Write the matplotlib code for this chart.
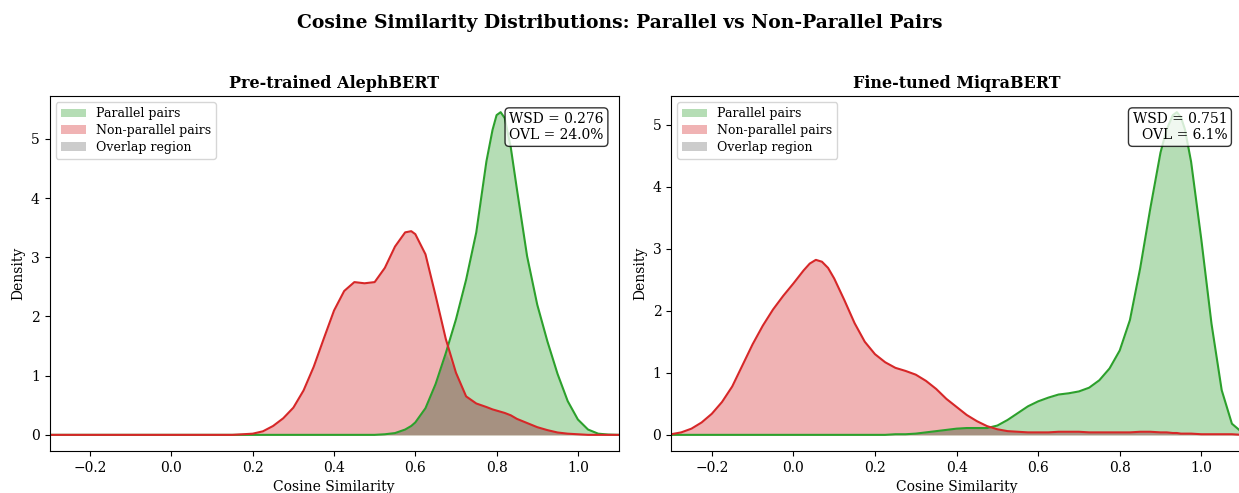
import numpy as np
import matplotlib.pyplot as plt

plt.rcParams['font.family'] = 'DejaVu Serif'

# values
X_LEFT = [-0.3, 0.0, 0.15, 0.2, 0.225, 0.25, 0.275, 0.3, 0.325, 0.35, 0.375, 0.4,
          0.425, 0.45, 0.475, 0.5, 0.525, 0.55, 0.575, 0.59, 0.6, 0.625, 0.65,
          0.675, 0.7, 0.725, 0.75, 0.775, 0.79, 0.8, 0.81, 0.82, 0.835, 0.85,
          0.875, 0.9, 0.925, 0.95, 0.975, 1.0, 1.025, 1.05, 1.075, 1.1]
PAR_LEFT = [0, 0, 0, 0, 0, 0, 0, 0, 0, 0, 0, 0,
            0, 0, 0, 0, 0.01, 0.03, 0.09, 0.15, 0.21, 0.45, 0.86,
            1.38, 1.95, 2.62, 3.42, 4.62, 5.15, 5.4, 5.45, 5.35, 4.85, 4.15,
            3.02, 2.2, 1.58, 1.03, 0.57, 0.26, 0.09, 0.02, 0.005, 0]
NONPAR_LEFT = [0, 0, 0, 0.02, 0.06, 0.15, 0.28, 0.46, 0.75, 1.15, 1.63, 2.1,
               2.43, 2.58, 2.56, 2.58, 2.82, 3.18, 3.42, 3.44, 3.39, 3.05, 2.35,
               1.62, 1.05, 0.65, 0.53, 0.47, 0.43, 0.41, 0.39, 0.37, 0.33, 0.27,
               0.2, 0.13, 0.08, 0.04, 0.02, 0.01, 0, 0, 0, 0]

X_RIGHT = [-0.3, -0.275, -0.25, -0.225, -0.2, -0.175, -0.15, -0.125, -0.1, -0.075,
           -0.05, -0.025, 0.0, 0.025, 0.04, 0.055, 0.07, 0.085, 0.1, 0.125, 0.15,
           0.175, 0.2, 0.225, 0.25, 0.275, 0.3, 0.325, 0.35, 0.375, 0.4, 0.425,
           0.45, 0.475, 0.5, 0.525, 0.55, 0.575, 0.6, 0.625, 0.65, 0.675, 0.7,
           0.725, 0.75, 0.775, 0.8, 0.825, 0.85, 0.875, 0.9, 0.915, 0.93, 0.94,
           0.95, 0.96, 0.975, 1.0, 1.025, 1.05, 1.075, 1.1]
PAR_RIGHT = [0, 0, 0, 0, 0, 0, 0, 0, 0, 0,
             0, 0, 0, 0, 0, 0, 0, 0, 0, 0, 0,
             0, 0, 0, 0.01, 0.01, 0.02, 0.04, 0.06, 0.08, 0.1, 0.11,
             0.11, 0.11, 0.15, 0.24, 0.35, 0.46, 0.54, 0.6, 0.65, 0.67, 0.7,
             0.76, 0.88, 1.07, 1.36, 1.85, 2.68, 3.65, 4.55, 4.92, 5.15, 5.2,
             5.12, 4.92, 4.4, 3.15, 1.79, 0.72, 0.18, 0.04]
NONPAR_RIGHT = [0.01, 0.04, 0.1, 0.2, 0.34, 0.53, 0.78, 1.12, 1.46, 1.76,
                2.02, 2.24, 2.44, 2.65, 2.76, 2.82, 2.79, 2.69, 2.52, 2.17, 1.8,
                1.5, 1.3, 1.17, 1.08, 1.03, 0.97, 0.87, 0.74, 0.58, 0.45, 0.32,
                0.22, 0.14, 0.09, 0.06, 0.05, 0.04, 0.04, 0.04, 0.05, 0.05, 0.05,
                0.04, 0.04, 0.04, 0.04, 0.04, 0.05, 0.05, 0.04, 0.04, 0.03, 0.03,
                0.02, 0.02, 0.02, 0.01, 0.01, 0.01, 0.01, 0]

TITLES = ['Pre-trained AlephBERT', 'Fine-tuned MiqraBERT']
WSD = [0.276, 0.751]
OVL = [24.0, 6.1]

fig = plt.figure(figsize=(12.39, 4.93), dpi=100)
ax_l = fig.add_axes([0.040, 0.0852, 0.4592, 0.720])
ax_r = fig.add_axes([0.5416, 0.0852, 0.4609, 0.720])

panels = [(ax_l, X_LEFT, PAR_LEFT, NONPAR_LEFT),
          (ax_r, X_RIGHT, PAR_RIGHT, NONPAR_RIGHT)]

for i, (ax, x, par, nonpar) in enumerate(panels):
    x = np.array(x)
    par = np.array(par)
    nonpar = np.array(nonpar)
    ax.fill_between(x, par, color='tab:green', alpha=0.35, lw=0, label='Parallel pairs')
    ax.fill_between(x, nonpar, color='tab:red', alpha=0.35, lw=0, label='Non-parallel pairs')
    ax.fill_between(x, np.minimum(par, nonpar), color='gray', alpha=0.4, lw=0,
                    label='Overlap region')
    ax.plot(x, par, color='tab:green', lw=1.5)
    ax.plot(x, nonpar, color='tab:red', lw=1.5)
    ax.set_xlim(-0.3, 1.1)
    ax.set_xlabel('Cosine Similarity')
    ax.set_ylabel('Density')
    ax.set_title(TITLES[i], fontweight='bold', fontsize=11.5)
    ax.legend(loc='upper left', fontsize=9, labelspacing=0.3)
    ax.text(0.974, 0.955, f'WSD = {WSD[i]:.3f}\nOVL = {OVL[i]:.1f}%',
            transform=ax.transAxes, ha='right', va='top', fontsize=10,
            multialignment='right',
            bbox=dict(boxstyle='round', facecolor='white', alpha=0.8))

fig.suptitle('Cosine Similarity Distributions: Parallel vs Non-Parallel Pairs',
             fontweight='bold', fontsize=13.5, y=0.971)
fig.savefig('out.png', dpi=100)
